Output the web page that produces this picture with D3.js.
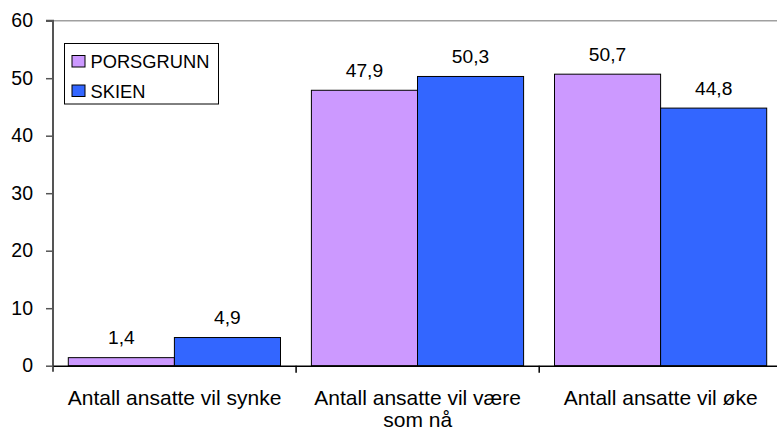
<!DOCTYPE html>
<html><head><meta charset="utf-8">
<script src="https://cdn.jsdelivr.net/npm/d3@7"></script>
<style>body{margin:0;background:#fff}svg{display:block}text{font-family:"Liberation Sans",Arial,sans-serif;fill:#000}</style>
</head><body><svg id="c" width="777" height="432"></svg>
<script>
const categories = ["Antall ansatte vil synke", "Antall ansatte vil være som nå", "Antall ansatte vil øke"];
const seriesNames = ["PORSGRUNN", "SKIEN"];
const porsgrunn = [1.4, 47.9, 50.7];
const skien = [4.9, 50.3, 44.8];
const yTicks = [0, 10, 20, 30, 40, 50, 60];
const colors = ["#CC99FF", "#3366FF"];
const values = [porsgrunn, skien];

const svg = d3.select("#c");
const pL = 53, pR = 782.3, pT = 20.7, pB = 365.7;
const x = d3.scaleBand().domain(categories).range([pL, pR]).padding(0);
const xs = d3.scaleBand().domain(seriesNames).range([15.3, x.bandwidth() - 15.6]).padding(0);
const y = d3.scaleLinear().domain([0, 60]).range([pB, pT]);

// top border
svg.append("line").attr("x1", pL).attr("x2", 777).attr("y1", pT).attr("y2", pT)
  .attr("stroke", "#a0a0a0").attr("stroke-width", 1.5);

// bars
categories.forEach((c, i) => {
  seriesNames.forEach((s, j) => {
    const v = values[j][i];
    const bx = x(c) + xs(s);
    svg.append("rect").attr("x", bx).attr("y", y(v)).attr("width", xs.bandwidth())
      .attr("height", y(0) - y(v)).attr("fill", colors[j]).attr("stroke", "#000").attr("stroke-width", 1);
    svg.append("text").attr("x", bx + xs.bandwidth() / 2).attr("y", y(v) - 13.5)
      .attr("text-anchor", "middle").attr("font-size", 19.2).text(String(v).replace(".", ","));
  });
});

// y axis
const ya = svg.append("g").attr("transform", `translate(${pL},0)`)
  .call(d3.axisLeft(y).tickValues(yTicks).tickSize(7).tickPadding(13).tickFormat(d3.format("d")));
ya.select(".domain").attr("stroke", "#555").attr("stroke-width", 2).attr("d", `M-7,${pT}H0V${pB + 6}`);
ya.selectAll(".tick line").attr("stroke", "#555").attr("stroke-width", 1.5);
ya.selectAll(".tick text").attr("font-size", 19.5).attr("font-family", '"Liberation Sans",Arial,sans-serif').attr("fill", "#000");

// x axis
const xa = svg.append("g").attr("transform", `translate(0,${pB})`)
  .call(d3.axisBottom(x).tickSize(0).tickFormat(""));
xa.select(".domain").attr("stroke", "#000").attr("stroke-width", 1.5);
xa.selectAll(".tick").remove();
[1, 2].forEach(k => {
  const xp = pL + k * x.step();
  svg.append("line").attr("x1", xp).attr("x2", xp).attr("y1", pB).attr("y2", pB + 7)
    .attr("stroke", "#000").attr("stroke-width", 1.5);
});

// category labels with wrap
categories.forEach(c => {
  const cx = x(c) + x.bandwidth() / 2;
  const t = svg.append("text").attr("x", cx).attr("y", 405)
    .attr("text-anchor", "middle").attr("font-size", 21);
  const words = c.split(" ");
  let line = [];
  let ts = t.append("tspan").attr("x", cx).attr("dy", 0);
  words.forEach(w => {
    line.push(w);
    ts.text(line.join(" "));
    if (ts.node().getComputedTextLength() > 236 && line.length > 1) {
      line.pop(); ts.text(line.join(" "));
      line = [w];
      ts = t.append("tspan").attr("x", cx).attr("dy", 21.5).text(w);
    }
  });
});

// legend
const lg = svg.append("g");
lg.append("rect").attr("x", 64.5).attr("y", 43.5).attr("width", 154).attr("height", 60.5)
  .attr("fill", "#fff").attr("stroke", "#000").attr("stroke-width", 1);
seriesNames.forEach((s, j) => {
  lg.append("rect").attr("x", 72).attr("y", 55.5 + j * 29.5).attr("width", 13).attr("height", 11.5)
    .attr("fill", colors[j]).attr("stroke", "#000").attr("stroke-width", 1);
  lg.append("text").attr("x", 90.5).attr("y", 68.3 + j * 29.3).attr("font-size", 18.3).text(s);
});
</script></body></html>
